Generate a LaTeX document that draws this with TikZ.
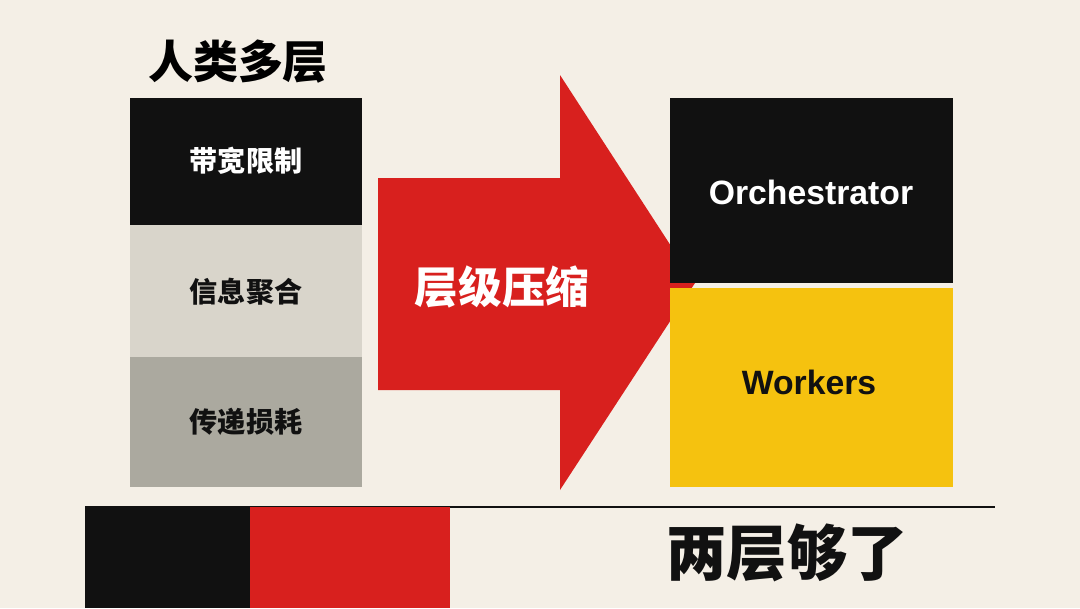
\documentclass[tikz,border=0pt]{standalone}
\usepackage{fontspec}
\setmainfont{Noto Sans CJK SC}
\newfontfamily\latinfont{Liberation Sans}
\definecolor{paper}{HTML}{F4EFE6}
\definecolor{ink}{HTML}{111111}
\definecolor{lightgray}{HTML}{D9D5CB}
\definecolor{midgray}{HTML}{ABA99F}
\definecolor{signal}{HTML}{D8201E}
\definecolor{amber}{HTML}{F5C20F}
\tikzset{
  block/.style={inner sep=0pt, outer sep=0pt},
  cjklabel/.style={font=\bfseries\fontsize{20}{24}\selectfont},
  latlabel/.style={font=\latinfont\bfseries\fontsize{24}{28}\selectfont}
}
\begin{document}
\begin{tikzpicture}[x=0.025cm, y=-0.025cm]
		\fill[paper] (0,0) rectangle (1080,608);
		\useasboundingbox (0,0) rectangle (1080,608);
		% left stack
		\node (title) at (238,62) {\bfseries\fontsize{32}{36}\selectfont 人类多层};
		\fill[ink] (130,98) rectangle (362,225);
		\fill[lightgray] (130,225) rectangle (362,357);
		\fill[midgray] (130,357) rectangle (362,487);
		\node[cjklabel, white] (bandwidth) at (246,161) {带宽限制};
		\node[cjklabel, ink] (aggregate) at (246,292) {信息聚合};
		\node[cjklabel, ink] (loss) at (246,422) {传递损耗};
		% arrow
		\fill[signal] (378,178) -- (560,178) -- (560,75) -- (695,283) -- (560,490) -- (560,390) -- (378,390) -- cycle;
		\node[white, font=\bfseries\fontsize{31}{34}\selectfont] (compress) at (502,287) {层级压缩};
		% right stack
		\fill[ink] (670,98) rectangle (953,283);
		\fill[amber] (670,288) rectangle (953,487);
		\node[latlabel, white] (orch) at (811,192) {Orchestrator};
		\node[latlabel, ink] (workers) at (809,382) {Workers};
		% footer
		\draw[ink, line width=1.5pt] (85,507) -- (995,507);
		\fill[ink] (85,507) rectangle (250,608);
		\fill[signal] (250,507) rectangle (450,608);
		\node[ink, font=\bfseries\fontsize{43}{47}\selectfont] (enough) at (787,553) {两层够了};
	\end{tikzpicture}
\end{document}
